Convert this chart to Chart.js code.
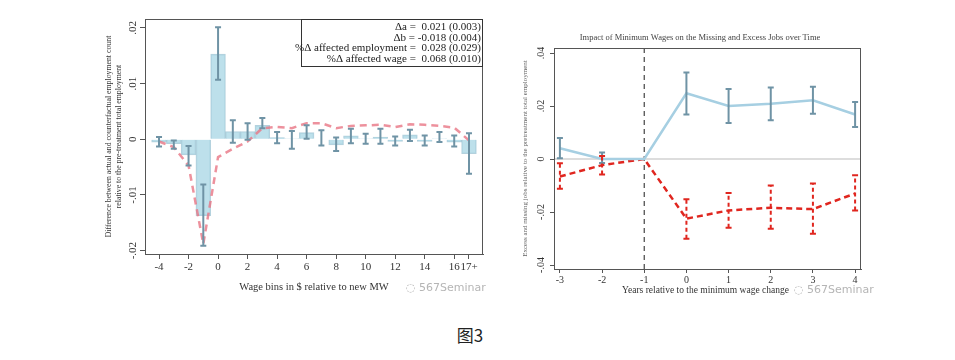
<!DOCTYPE html>
<html>
<head>
<meta charset="utf-8">
<script src="https://cdn.jsdelivr.net/npm/chart.js@4.4.1/dist/chart.umd.min.js"></script>
<style>
html, body { margin: 0; padding: 0; background: #fff; }
body { width: 955px; height: 360px; position: relative; overflow: hidden; }
#left { position: absolute; left: 100px; top: 10px; }
#right { position: absolute; left: 500px; top: 25px; }
#caption { position: absolute; left: 0; width: 940px; top: 322px; text-align: center;
  font-family: "Noto Sans CJK SC"; font-size: 17px; color: #222; }
.mark { position: absolute; font-family: "DejaVu Sans"; font-size: 11px; color: #b5b5b5; }
</style>
</head>
<body>
<canvas id="left" width="395" height="300"></canvas>
<canvas id="right" width="380" height="280"></canvas>
<div id="caption">图3</div>
<div class="mark" style="left:406px;top:281px">◌ 567Seminar</div>
<div class="mark" style="left:794px;top:283px">◌ 567Seminar</div>
<script>
// left panel: wage bins
const bins = [-4, -3, -2, -1, 0, 1, 2, 3, 4, 5, 6, 7, 8, 9, 10, 11, 12, 13, 14, 15, 16, 17]
const binTicks = [-4, -2, 0, 2, 4, 6, 8, 10, 12, 14, 16, 17]
const binDiff = [-0.0005, -0.0008, -0.0028, -0.0137, 0.0153, 0.0014, 0.0014, 0.0025, 0.0003, 0.0001, 0.0012, 0.0000,
  -0.0010, 0.0006, 0.0001, 0.0004, -0.0004, 0.0008, -0.0004, 0.0001, -0.0005, -0.0026]
const binLo = [-0.0013, -0.0017, -0.0047, -0.0191, 0.0107, -0.0006, -0.0001, 0.0020, -0.0007, -0.0017, 0.0001, -0.0011,
  -0.0021, -0.0007, -0.0008, -0.0008, -0.0011, -0.0003, -0.0011, -0.0005, -0.0013, -0.0062]
const binHi = [0.0004, -0.0002, -0.0012, -0.0081, 0.0201, 0.0034, 0.0029, 0.0038, 0.0013, 0.0015, 0.0025, 0.0016,
  0.0003, 0.0019, 0.0010, 0.0019, 0.0005, 0.0017, 0.0007, 0.0013, 0.0007, 0.0011]
const counterfactual = [-0.0004, -0.0014, -0.0047, -0.0188, -0.0032, -0.0017, -0.0004, 0.0020, 0.0022, 0.0020, 0.0029, 0.0029,
  0.0020, 0.0024, 0.0025, 0.0026, 0.0022, 0.0027, 0.0026, 0.0024, 0.0021, -0.0002]
const leftYTicks = [-0.02, -0.01, 0, 0.01, 0.02]
const statLines = [
  'Δa =  0.021 (0.003)',
  'Δb = -0.018 (0.004)',
  '%Δ affected employment =  0.028 (0.029)',
  '%Δ affected wage =  0.068 (0.010)'
]

// right panel: event time
const years = [-3, -2, -1, 0, 1, 2, 3, 4]
const excess = [0.0041, 0.0000, 0, 0.0248, 0.0200, 0.0209, 0.0222, 0.0168]
const excessLo = [0.0003, -0.0015, null, 0.0168, 0.0136, 0.0146, 0.0171, 0.0121]
const excessHi = [0.0079, 0.0025, null, 0.0327, 0.0264, 0.0270, 0.0273, 0.0215]
const missing = [-0.0066, -0.0023, 0, -0.0225, -0.0194, -0.0184, -0.0189, -0.0130]
const missingLo = [-0.0112, -0.0058, null, -0.0301, -0.0259, -0.0263, -0.0282, -0.0194]
const missingHi = [-0.0016, 0.0011, null, -0.0152, -0.0128, -0.0100, -0.0092, -0.0061]
const rightYTicks = [-0.04, -0.02, 0, 0.02, 0.04]

const serif = 'Liberation Serif'

function fmt(v) {
  if (v === 0) return '0'
  return v.toFixed(2).replace('0.', '.')
}

function frame(chart) {
  const { ctx, chartArea: a } = chart
  ctx.save()
  ctx.strokeStyle = '#555'
  ctx.lineWidth = 1
  ctx.strokeRect(a.left + 0.5, a.top + 0.5, a.right - a.left - 1, a.bottom - a.top)
  ctx.restore()
}

function yLabels(chart, values, gap, size) {
  const { ctx, chartArea: a } = chart
  const ys = chart.scales.y
  ctx.save()
  ctx.fillStyle = '#333'
  ctx.font = size + 'px "' + serif + '"'
  ctx.textAlign = 'center'
  ctx.textBaseline = 'bottom'
  values.forEach(v => {
    ctx.save()
    ctx.translate(a.left - gap, ys.getPixelForValue(v))
    ctx.rotate(-Math.PI / 2)
    ctx.fillText(fmt(v), 0, 0)
    ctx.restore()
  })
  ctx.restore()
}

function vText(ctx, text, x, y, size, color) {
  ctx.save()
  ctx.translate(x, y)
  ctx.rotate(-Math.PI / 2)
  ctx.font = size + 'px "' + serif + '"'
  ctx.fillStyle = color
  ctx.textAlign = 'center'
  ctx.textBaseline = 'middle'
  ctx.fillText(text, 0, 0)
  ctx.restore()
}

function whiskers(chart, xs, lo, hi, color, dash) {
  const { ctx } = chart
  const sx = chart.scales.x, sy = chart.scales.y
  ctx.save()
  ctx.strokeStyle = color
  ctx.lineWidth = 2
  xs.forEach((x, i) => {
    if (lo[i] === null) return
    const px = sx.getPixelForValue(x)
    const y1 = sy.getPixelForValue(lo[i]), y2 = sy.getPixelForValue(hi[i])
    ctx.setLineDash(dash)
    ctx.beginPath()
    ctx.moveTo(px, y1); ctx.lineTo(px, y2)
    ctx.stroke()
    ctx.setLineDash([])
    ctx.beginPath()
    ctx.moveTo(px - 3, y1); ctx.lineTo(px + 3, y1)
    ctx.moveTo(px - 3, y2); ctx.lineTo(px + 3, y2)
    ctx.stroke()
  })
  ctx.restore()
}

const leftDecor = {
  id: 'leftDecor',
  afterDraw(chart) {
    const { ctx, chartArea: a } = chart
    whiskers(chart, bins, binLo, binHi, '#6f93a5', [])
    frame(chart)
    yLabels(chart, leftYTicks, 6, 11)
    // stats box
    ctx.save()
    ctx.strokeStyle = '#333'
    ctx.lineWidth = 1
    ctx.fillStyle = '#fff'
    ctx.fillRect(a.right - 182, a.top, 182, 48)
    ctx.strokeRect(a.right - 181.5, a.top + 0.5, 181, 47)
    ctx.fillStyle = '#222'
    ctx.font = '11px "' + serif + '"'
    ctx.textAlign = 'right'
    ctx.textBaseline = 'middle'
    statLines.forEach((t, i) => ctx.fillText(t, a.right - 2, a.top + 8 + i * 10.7))
    ctx.restore()
    // axis titles
    vText(ctx, 'Difference between actual and counterfactual employment count', 9, (a.top + a.bottom) / 2, 7.8, '#333')
    vText(ctx, 'relative to the pre-treatment total employment', 19, (a.top + a.bottom) / 2, 7.8, '#333')
    ctx.save()
    ctx.font = '10.5px "' + serif + '"'
    ctx.fillStyle = '#333'
    ctx.textAlign = 'center'
    ctx.textBaseline = 'middle'
    ctx.fillText('Wage bins in $ relative to new MW', (a.left + a.right) / 2, 277)
    ctx.restore()
  }
}

new Chart(document.getElementById('left'), {
  type: 'bar',
  data: {
    datasets: [
      {
        type: 'line',
        data: bins.map((b, i) => ({ x: b, y: counterfactual[i] })),
        borderColor: 'rgba(232,118,132,0.8)',
        borderWidth: 2.5,
        borderDash: [7, 5],
        pointRadius: 0,
        tension: 0,
        order: 0
      },
      {
        type: 'bar',
        data: bins.map((b, i) => ({ x: b, y: binDiff[i] })),
        backgroundColor: 'rgba(173,216,230,0.8)',
        borderColor: 'rgba(130,178,198,0.6)',
        borderWidth: 1,
        barPercentage: 1,
        categoryPercentage: 1,
        order: 1
      }
    ]
  },
  options: {
    responsive: false,
    animation: false,
    layout: { padding: { top: 9, right: 12, left: 0, bottom: 0 } },
    plugins: { legend: { display: false }, tooltip: { enabled: false } },
    scales: {
      x: {
        type: 'linear', min: -4.95, max: 17.95, offset: false,
        afterBuildTicks: s => { s.ticks = binTicks.map(v => ({ value: v })) },
        afterFit: s => { s.height = 56 },
        ticks: {
          autoSkip: false, maxRotation: 0, padding: 2, color: '#333',
          font: { family: serif, size: 11 },
          callback: v => v === 17 ? '17+' : String(v)
        },
        grid: { offset: false, drawOnChartArea: false, tickLength: 5, color: '#555' },
        border: { color: '#555' }
      },
      y: {
        min: -0.0206, max: 0.0216,
        afterBuildTicks: s => { s.ticks = leftYTicks.map(v => ({ value: v })) },
        afterFit: s => { s.width = 45 },
        ticks: { display: false },
        grid: { drawOnChartArea: false, tickLength: 5, color: '#555' },
        border: { color: '#555' }
      }
    }
  },
  plugins: [leftDecor]
})

const rightDecor = {
  id: 'rightDecor',
  beforeDatasetsDraw(chart) {
    const { ctx, chartArea: a } = chart
    const sx = chart.scales.x, sy = chart.scales.y
    ctx.save()
    ctx.strokeStyle = '#d2d2d2'
    ctx.lineWidth = 1.5
    ctx.beginPath()
    ctx.moveTo(a.left, sy.getPixelForValue(0))
    ctx.lineTo(a.right, sy.getPixelForValue(0))
    ctx.stroke()
    ctx.strokeStyle = '#444'
    ctx.lineWidth = 1.2
    ctx.setLineDash([5, 4])
    ctx.beginPath()
    ctx.moveTo(sx.getPixelForValue(-1), a.top)
    ctx.lineTo(sx.getPixelForValue(-1), a.bottom)
    ctx.stroke()
    ctx.restore()
  },
  afterDraw(chart) {
    const { ctx, chartArea: a } = chart
    whiskers(chart, years, excessLo, excessHi, '#6f93a5', [])
    whiskers(chart, years, missingLo, missingHi, '#e0261f', [4, 3])
    frame(chart)
    yLabels(chart, rightYTicks, 8, 10)
    vText(ctx, 'Excess and missing jobs relative to the pretreatment total employment', 25, (a.top + a.bottom) / 2, 7, '#666')
    ctx.save()
    ctx.textAlign = 'center'
    ctx.textBaseline = 'middle'
    ctx.fillStyle = '#444'
    ctx.font = '8.5px "' + serif + '"'
    ctx.fillText('Impact of Minimum Wages on the Missing and Excess Jobs over Time', 200, 13)
    ctx.fillStyle = '#333'
    ctx.font = '9.5px "' + serif + '"'
    ctx.fillText('Years relative to the minimum wage change', (a.left + a.right) / 2 - 2, 265)
    ctx.restore()
  }
}

new Chart(document.getElementById('right'), {
  type: 'line',
  data: {
    datasets: [
      {
        data: years.map((x, i) => ({ x, y: excess[i] })),
        borderColor: '#a6cfe2',
        borderWidth: 2.5,
        pointRadius: 0,
        tension: 0
      },
      {
        data: years.map((x, i) => ({ x, y: missing[i] })),
        borderColor: '#e0261f',
        borderWidth: 2.5,
        borderDash: [6, 4],
        pointRadius: 0,
        tension: 0
      }
    ]
  },
  options: {
    responsive: false,
    animation: false,
    layout: { padding: { top: 23, right: 19, left: 0, bottom: 0 } },
    plugins: { legend: { display: false }, tooltip: { enabled: false } },
    scales: {
      x: {
        type: 'linear', min: -3.14, max: 4.14,
        afterBuildTicks: s => { s.ticks = years.map(v => ({ value: v })) },
        afterFit: s => { s.height = 36 },
        ticks: { autoSkip: false, maxRotation: 0, padding: 1, color: '#333', font: { family: serif, size: 10 } },
        grid: { drawOnChartArea: false, tickLength: 4, color: '#555' },
        border: { color: '#555' }
      },
      y: {
        min: -0.0415, max: 0.0419,
        afterBuildTicks: s => { s.ticks = rightYTicks.map(v => ({ value: v })) },
        afterFit: s => { s.width = 54 },
        ticks: { display: false },
        grid: { drawOnChartArea: false, tickLength: 4, color: '#555' },
        border: { color: '#555' }
      }
    }
  },
  plugins: [rightDecor]
})
</script>
</body>
</html>
